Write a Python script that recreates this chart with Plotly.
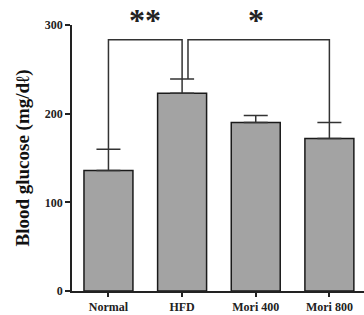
import plotly.graph_objects as go

categories = ["Normal", "HFD", "Mori 400", "Mori 800"]
means = [136, 223, 190, 172]
errors = [24, 16, 8, 18]
y_ticks = [0, 100, 200, 300]

# significance brackets: (from index, to index, bracket value, label, label position)
brackets = [(0, 1, 283.5, "**", 0.5), (1.08, 3, 283.5, "*", 2.0)]

x = list(range(len(categories)))
tops = [m + e for m, e in zip(means, errors)]

fig = go.Figure()
fig.add_trace(go.Bar(
    x=x, y=means, width=0.665,
    marker=dict(color="#a3a3a3", line=dict(color="#1a1a1a", width=1.5)),
    error_y=dict(type="data", symmetric=False, array=errors,
                 arrayminus=[0] * len(errors), color="#333333",
                 thickness=1.5, width=12),
    showlegend=False,
))

def top_at(xi):
    return tops[int(round(xi))]

for a, b, yv, label, lx in brackets:
    fig.add_trace(go.Scatter(
        x=[a, a, b, b], y=[top_at(a), yv, yv, top_at(b)],
        mode="lines", line=dict(color="#333333", width=1.5),
        cliponaxis=False, showlegend=False, hoverinfo="skip"))
    fig.add_annotation(x=lx, y=300, yref="y", text=label, showarrow=False,
                       yanchor="bottom", yshift=-15,
                       font=dict(family="Liberation Serif", size=32, color="#222",
                                 weight="bold"))

tf = dict(family="Liberation Serif", size=12, color="#222", weight="bold")
fig.update_layout(
    width=364, height=315,
    margin=dict(l=72, r=0, t=25, b=24),
    plot_bgcolor="white", paper_bgcolor="white",
    xaxis=dict(range=[-0.495, 3.47], tickvals=x, ticktext=categories,
               showline=True, linecolor="#222", linewidth=1.5,
               ticks="outside", ticklen=4, tickcolor="#222", tickwidth=1.5,
               tickfont=tf, showgrid=False, zeroline=False),
    yaxis=dict(range=[0, 300], tickvals=y_ticks,
               showline=True, linecolor="#222", linewidth=1.5,
               ticks="outside", ticklen=5, tickcolor="#222", tickwidth=1.5,
               tickfont=tf, showgrid=False, zeroline=False,
               title=dict(text="Blood glucose (mg/dℓ)", standoff=10,
                          font=dict(family="Liberation Serif", size=19, color="#111",
                                    weight="bold"))),
)

fig.write_html("out.html")
